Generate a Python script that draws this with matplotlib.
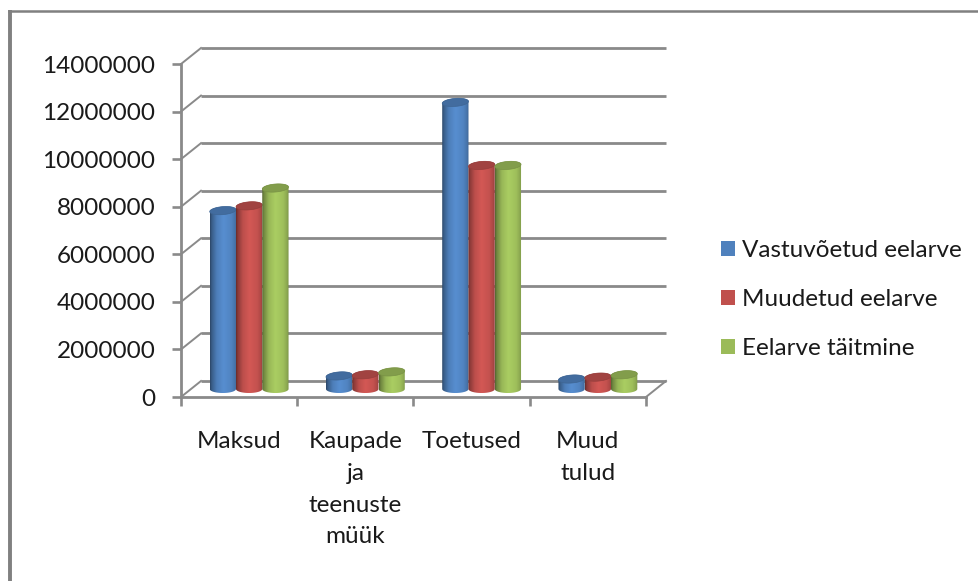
import numpy as np
import matplotlib
matplotlib.use('Agg')
import matplotlib.pyplot as plt
from matplotlib.colors import to_rgb
from matplotlib.patches import Patch, PathPatch
from matplotlib.path import Path
from matplotlib.transforms import Affine2D

# Data
categories = ['Maksud', 'Kaupade\nja\nteenuste\nmüük', 'Toetused', 'Muud\ntulud']
series_names = ['Vastuvõetud eelarve', 'Muudetud eelarve', 'Eelarve täitmine']
vastuvoetud = [7500000, 550000, 12050000, 420000]
muudetud = [7700000, 600000, 9400000, 500000]
taitmine = [8450000, 720000, 9400000, 600000]
y_ticks = [0, 2000000, 4000000, 6000000, 8000000, 10000000, 12000000, 14000000]

colors = ['#4f81bd', '#c0504d', '#9bbb59']
gray = '#8a8a8a'
text_color = '#1a1a1a'
W, H = 979, 581

plt.rcParams['font.family'] = ['Lato', 'DejaVu Sans']
fig = plt.figure(figsize=(W / 100, H / 100), dpi=100)

# Axes is the front plane of the 3D box
left, right, bottom, top = 181, 646, 397, 64
ax = fig.add_axes([left / W, 1 - bottom / H, (right - left) / W, (bottom - top) / H])
ax.patch.set_visible(False)
ax.set_xlim(-0.5, 3.5)
ax.set_ylim(0, 14000000)
ax.autoscale(False)

# Depth offsets in pixels
back = ax.transData + Affine2D().translate(20, 16)
mid = ax.transData + Affine2D().translate(10, 8)

# Back wall gridlines and the slanted side lines
for v in y_ticks:
    ax.plot([-0.5, 3.5], [v, v], color=gray, lw=2.0, transform=back, clip_on=False, zorder=1,
            solid_capstyle='butt')
    p0 = ax.transData.transform((-0.5, v))
    p1 = back.transform((-0.5, v))
    ax.plot([p0[0], p1[0]], [p0[1], p1[1]], color=gray, lw=1.4, transform=None, clip_on=False, zorder=1)
p0 = ax.transData.transform((3.5, 0))
p1 = back.transform((3.5, 0))
ax.plot([p0[0], p1[0]], [p0[1], p1[1]], color=gray, lw=1.4, transform=None, clip_on=False, zorder=1)

# Cylinders
bar_w = 0.226
ell_h = 4.0 / (bottom - top) * 14000000
tilt = 1.0 / (bottom - top) * 14000000
shade_pos = [0, 0.06, 0.25, 0.5, 0.8, 0.95, 1]
shade_val = [0.55, 0.72, 0.98, 1.1, 1.02, 0.88, 0.75]
t = np.linspace(0, np.pi, 40)

for i, (values, c) in enumerate(zip([vastuvoetud, muudetud, taitmine], colors)):
    base = np.array(to_rgb(c))
    shade = np.interp(np.linspace(0, 1, 64), shade_pos, shade_val)
    grad = np.clip(shade[:, None] * base, 0, 1)[None, :, :]
    for j, v in enumerate(values):
        xc = j + (i - 1) * bar_w
        hw = bar_w / 2
        # outline: bottom half ellipse then top half ellipse
        xs_top = xc - hw * np.cos(t)
        ys_top = v + ell_h * np.sin(t) + tilt * (-np.cos(t))
        xs_bot = xc + hw * np.cos(t)
        ys_bot = -ell_h * np.sin(t)
        verts = np.r_[np.c_[xs_bot, ys_bot], np.c_[xs_top, ys_top], [[xs_bot[0], ys_bot[0]]]]
        body = PathPatch(Path(verts), transform=mid, fc='none', ec='none')
        ax.add_patch(body)
        im = ax.imshow(grad, extent=[xc - hw, xc + hw, -2 * ell_h, v + 2 * ell_h], aspect='auto',
                       transform=mid, zorder=3 + i * 0.1, interpolation='bilinear')
        im.set_clip_path(body)
        # top face
        tt = np.linspace(0, 2 * np.pi, 60)
        top_xy = np.c_[xc - hw * np.cos(tt), v + ell_h * np.sin(tt) - tilt * np.cos(tt)]
        ax.add_patch(PathPatch(Path(top_xy), transform=mid, fc=base * 0.84, ec=base * 0.78, lw=0.5,
                               zorder=3.05 + i * 0.1))

ax.set_xlim(-0.5, 3.5)
ax.set_ylim(0, 14000000)

# Front axis lines and ticks
for side in ['top', 'right']:
    ax.spines[side].set_visible(False)
for side in ['left', 'bottom']:
    ax.spines[side].set_color(gray)
    ax.spines[side].set_linewidth(2.0)
    ax.spines[side].set_zorder(2)

ax.set_yticks(y_ticks)
ax.set_yticklabels([str(v) for v in y_ticks], fontsize=17.5, color=text_color)
ax.tick_params(axis='y', length=6.5, width=1.9, color=gray, pad=12)
ax.set_xticks(np.arange(4))
ax.set_xticklabels(categories, fontsize=17.5, color=text_color, linespacing=1.63)
ax.set_xticks(np.arange(-0.5, 4), minor=True)
ax.tick_params(axis='x', which='major', length=0, pad=24.7)
ax.tick_params(axis='x', which='minor', length=6.5, width=1.9, color=gray)

# Legend
handles = [Patch(fc=c, ec='none') for c in colors]
fig.legend(handles, series_names, loc='upper left', bbox_to_anchor=(721 / W, 1 - 240 / H),
           frameon=False, fontsize=17.5, labelcolor=text_color, handlelength=0.58, handleheight=0.58,
           handletextpad=0.3, labelspacing=1.15, borderpad=0, borderaxespad=0)

# Outer frame, open to the right and bottom
fig.add_artist(plt.Line2D([9.8 / W, 9.8 / W], [1 - 10 / H, 0], color='#808080', lw=2.8,
                          solid_capstyle='butt'))
fig.add_artist(plt.Line2D([8 / W, 1.0], [1 - 11.3 / H, 1 - 11.3 / H], color='#808080', lw=1.8,
                          solid_capstyle='butt'))

fig.savefig('out.png', dpi=100)
